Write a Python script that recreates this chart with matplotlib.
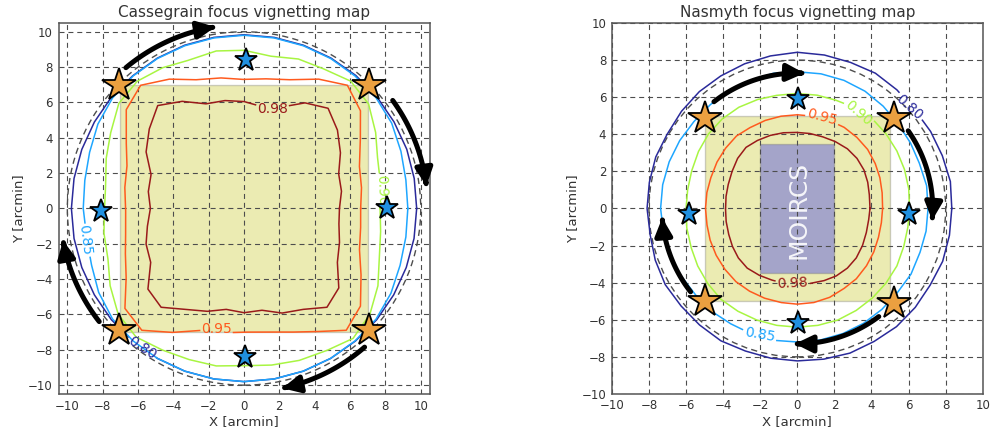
import numpy as np
import matplotlib
matplotlib.use("Agg")
import matplotlib.pyplot as plt
from matplotlib.patches import Rectangle, Circle, FancyArrowPatch
from matplotlib.path import Path

# contour levels and polar shape of each contour (radius in arcmin every 10 deg)
levels = [0.80, 0.85, 0.90, 0.95, 0.98]
level_colors = ["#2a2a9a", "#1ea6ff", "#a8f542", "#ff5a1e", "#9a1a1a"]
angles = np.arange(0, 360, 10)

cass_r = {
    0.80: [9.77, 9.78, 9.8, 9.8, 9.82, 9.83, 9.83, 9.83, 9.83, 9.83, 9.83, 9.83, 9.82, 9.8, 9.8, 9.78, 9.77, 9.77,
           9.77, 9.77, 9.77, 9.78, 9.8, 9.8, 9.8, 9.8, 9.8, 9.8, 9.8, 9.8, 9.8, 9.8, 9.8, 9.78, 9.77, 9.77],
    0.85: [9.27, 9.3, 9.45, 9.65, 9.75, 9.78, 9.8, 9.8, 9.8, 9.8, 9.8, 9.8, 9.8, 9.78, 9.72, 9.55, 9.3, 9.15,
           9.1, 9.05, 9.2, 9.5, 9.72, 9.78, 9.8, 9.8, 9.8, 9.8, 9.8, 9.8, 9.8, 9.78, 9.75, 9.6, 9.4, 9.3],
    0.90: [7.7, 7.85, 8.05, 8.6, 9.2, 9.4, 9.1, 9.0, 8.75, 8.95, 9.05, 8.95, 9.2, 9.4, 9.25, 8.7, 8.3, 7.95,
           7.9, 8.05, 8.2, 8.75, 9.3, 9.5, 9.25, 9.1, 9.05, 8.9, 9.0, 9.15, 9.3, 9.6, 9.3, 8.75, 8.15, 7.85],
    0.95: [6.6, 6.75, 6.95, 7.6, 8.6, 9.1, 8.45, 7.75, 7.45, 7.3, 7.5, 7.75, 8.45, 9.1, 8.7, 7.7, 7.05, 6.85,
           6.7, 6.8, 7.15, 7.7, 8.8, 9.0, 8.1, 7.35, 7.15, 7.0, 7.1, 7.45, 8.05, 9.0, 8.6, 7.65, 6.95, 6.7],
    0.98: [5.4, 5.6, 5.7, 6.3, 6.9, 7.4, 6.9, 6.1, 5.85, 6.05, 6.2, 6.3, 7.0, 7.6, 7.0, 6.4, 5.6, 5.5,
           5.3, 5.55, 5.9, 6.1, 7.1, 7.3, 6.6, 6.2, 5.8, 5.9, 5.85, 6.3, 6.6, 7.3, 7.0, 6.1, 5.75, 5.45],
}
nas_r = {
    0.80: [8.33, 8.38, 8.32, 8.3, 8.27, 8.35, 8.42, 8.38, 8.4, 8.42, 8.35, 8.3, 8.25, 8.22, 8.15, 8.08, 8.12, 8.1,
           8.1, 8.06, 8.15, 8.22, 8.18, 8.2, 8.24, 8.18, 8.2, 8.22, 8.25, 8.3, 8.28, 8.32, 8.3, 8.27, 8.34, 8.33],
    0.85: [7.05, 7.08, 7.02, 7.05, 7.1, 7.2, 7.3, 7.35, 7.37, 7.37, 7.4, 7.35, 7.35, 7.3, 7.28, 7.32, 7.35, 7.37,
           7.37, 7.33, 7.3, 7.25, 7.2, 7.22, 7.18, 7.2, 7.22, 7.2, 7.2, 7.18, 7.15, 7.1, 7.05, 7.08, 7.03, 7.05],
    0.90: [6.05, 6.1, 6.15, 6.2, 6.25, 6.3, 6.25, 6.2, 6.2, 6.2, 6.2, 6.25, 6.3, 6.3, 6.25, 6.15, 6.05, 6.0,
           6.0, 6.05, 6.1, 6.2, 6.3, 6.4, 6.4, 6.4, 6.4, 6.4, 6.4, 6.4, 6.35, 6.3, 6.25, 6.2, 6.1, 6.05],
    0.95: [4.6, 4.65, 4.75, 4.85, 4.95, 5.0, 5.05, 5.05, 5.05, 5.05, 5.05, 5.05, 5.05, 5.1, 5.05, 5.0, 4.95, 4.95,
           4.95, 4.95, 5.0, 5.05, 5.1, 5.15, 5.15, 5.15, 5.15, 5.16, 5.15, 5.1, 5.0, 4.95, 4.85, 4.75, 4.65, 4.6],
    0.98: [3.92, 3.95, 4.05, 4.15, 4.2, 4.2, 4.15, 4.1, 4.1, 4.1, 4.15, 4.2, 4.25, 4.3, 4.2, 4.05, 3.95, 3.9,
           3.87, 3.9, 3.95, 4.05, 4.15, 4.2, 4.15, 4.1, 4.1, 4.1, 4.1, 4.15, 4.2, 4.2, 4.15, 4.05, 3.95, 3.9],
}

# contour labels: level, x, y, rotation
cass_labels = [(0.80, -5.75, -7.9, -33), (0.85, -9.0, -1.8, -83), (0.90, 7.8, 1.05, -88),
               (0.95, -1.55, -6.85, 0), (0.98, 1.6, 5.6, 0)]
nas_labels = [(0.80, 6.05, 5.45, -42), (0.85, -2.0, -6.8, -10), (0.90, 3.3, 5.15, -41),
              (0.95, 1.35, 4.9, -15), (0.98, -0.25, -4.05, 3)]

# guide stars
cass_big_x = [-7.1, 7.1, -7.1, 7.1]
cass_big_y = [7.0, 7.0, -6.9, -6.9]
cass_small_x = [0.1, 0.05, -8.07, 8.1]
cass_small_y = [8.4, -8.4, -0.17, 0.05]
nas_big_x = [-5.0, 5.2, -5.0, 5.2]
nas_big_y = [4.9, 4.9, -5.0, -5.1]
nas_small_x = [0.05, 0.05, -5.85, 6.0]
nas_small_y = [5.9, -6.2, -0.3, -0.3]

# rotation arrows: radius, start angle, end angle (deg)
cass_arrows = [(10.4, 130, 99), (10.4, 36, 7), (10.4, -49, -78), (10.4, 218, 190)]
nas_arrows = [(7.3, 128, 87), (7.3, 35, -5), (7.3, -53, -91), (7.3, 218, 184)]

colors = dict(zip(levels, level_colors))
txt_col = "#333333"


def draw_level(ax, radii, color, labels):
    t = np.radians(np.append(angles, 360))
    r = np.append(radii, radii[0])
    x = r * np.cos(t)
    y = r * np.sin(t)
    xs = np.concatenate([np.linspace(x[i], x[i + 1], 25, endpoint=False) for i in range(len(x) - 1)] + [x[-1:]])
    ys = np.concatenate([np.linspace(y[i], y[i + 1], 25, endpoint=False) for i in range(len(y) - 1)] + [y[-1:]])
    for txt, lx, ly, rot in labels:
        gap = np.hypot(xs - lx, ys - ly) < 0.95
        xs[gap] = np.nan
        ys[gap] = np.nan
        ax.text(lx, ly, "%.2f" % txt, rotation=rot, ha="center", va="center",
                color=color, fontsize=10, zorder=3)
    ax.plot(xs, ys, color=color, lw=1.1, zorder=2)


def arc_arrow(ax, r, t0, t1):
    t = np.radians(np.linspace(t0, t1, 40))
    verts = np.column_stack([r * np.cos(t), r * np.sin(t)])
    arr = FancyArrowPatch(path=Path(verts), arrowstyle="-|>,head_length=0.45,head_width=0.22",
                          mutation_scale=23, lw=3.6, color="k", shrinkA=0, shrinkB=0,
                          zorder=6, clip_on=False)
    ax.add_patch(arr)


def setup(ax, lim, title, ticks):
    ax.set_xlim(-lim, lim)
    ax.set_ylim(-lim, lim)
    ax.set_aspect("equal")
    ax.set_xticks(ticks)
    ax.set_yticks(ticks)
    ax.tick_params(length=0, pad=4, labelsize=8.5, colors=txt_col)
    ax.grid(True, color="0.3", ls=(0, (4.5, 3.5)), lw=0.8)
    for s in ax.spines.values():
        s.set_color("#555555")
        s.set_linewidth(1.1)
    ax.set_title(title, fontsize=11, color=txt_col, pad=4)
    ax.set_xlabel("X [arcmin]", fontsize=9.5, color=txt_col, labelpad=2)
    ax.set_ylabel("Y [arcmin]", fontsize=9.5, color=txt_col, labelpad=2)


fig = plt.figure(figsize=(9.9, 4.34), dpi=100)
ax1 = fig.add_axes([0.0586, 0.0922, 0.3758, 0.855])
ax2 = fig.add_axes([0.618, 0.0922, 0.3747, 0.855])

# Cassegrain
setup(ax1, 10.5, "Cassegrain focus vignetting map", np.arange(-10, 11, 2))
ax1.add_patch(Rectangle((-7, -7), 14, 14, facecolor="y", alpha=0.3, edgecolor="0.4", lw=1, zorder=1))
ax1.add_patch(Circle((0, 0), 10, fill=False, edgecolor="0.3", ls=(0, (4.5, 3)), lw=1, zorder=2))
for lv in levels:
    draw_level(ax1, cass_r[lv], colors[lv], [l for l in cass_labels if l[0] == lv])
ax1.plot(cass_big_x, cass_big_y, "*", ms=25, mfc="#eba040", mec="k", mew=1.3, ls="none", zorder=5)
ax1.plot(cass_small_x, cass_small_y, "*", ms=17, mfc="#2090e0", mec="k", mew=1.3, ls="none", zorder=5)
for r, a0, a1 in cass_arrows:
    arc_arrow(ax1, r, a0, a1)

# Nasmyth
setup(ax2, 10, "Nasmyth focus vignetting map", np.arange(-10, 11, 2))
ax2.add_patch(Rectangle((-5, -5), 10, 10, facecolor="y", alpha=0.3, edgecolor="0.4", lw=1, zorder=1))
ax2.add_patch(Rectangle((-2, -3.5), 4, 7, facecolor="b", alpha=0.3, edgecolor="0.4", lw=1, zorder=1))
ax2.text(0.05, -0.1, "MOIRCS", rotation=90, ha="center", va="center", color="white",
         fontsize=18, alpha=0.9, zorder=3)
ax2.add_patch(Circle((0, 0), 8, fill=False, edgecolor="0.3", ls=(0, (4.5, 3)), lw=1, zorder=2))
for lv in levels:
    draw_level(ax2, nas_r[lv], colors[lv], [l for l in nas_labels if l[0] == lv])
ax2.plot(nas_big_x, nas_big_y, "*", ms=25, mfc="#eba040", mec="k", mew=1.3, ls="none", zorder=5)
ax2.plot(nas_small_x, nas_small_y, "*", ms=17, mfc="#2090e0", mec="k", mew=1.3, ls="none", zorder=5)
for r, a0, a1 in nas_arrows:
    arc_arrow(ax2, r, a0, a1)

fig.savefig("out.png", dpi=100)
